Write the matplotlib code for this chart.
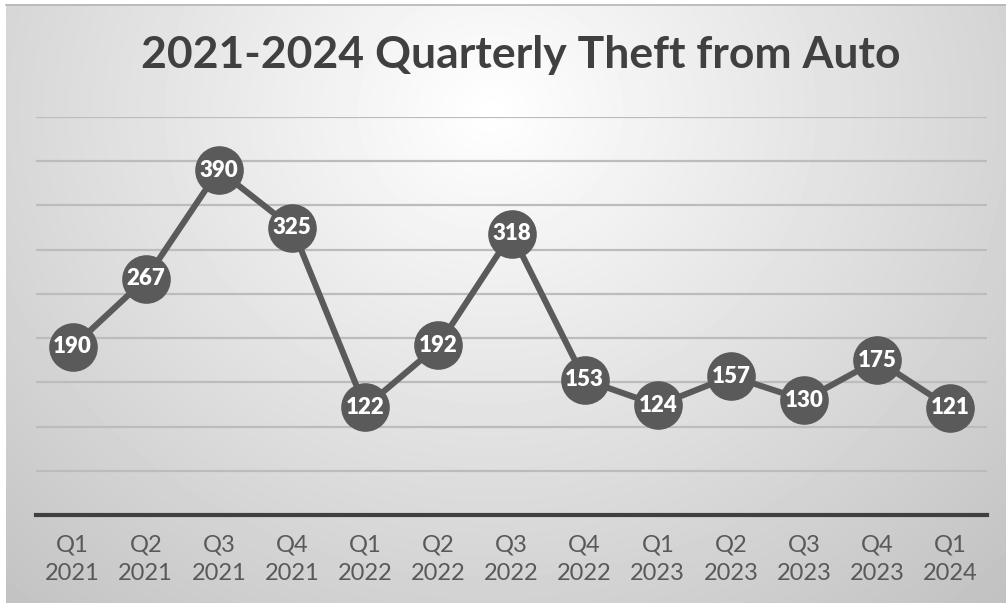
import numpy as np
import matplotlib
matplotlib.use("Agg")
import matplotlib.pyplot as plt

# quarterly theft-from-auto counts
quarters = ["Q1", "Q2", "Q3", "Q4", "Q1", "Q2", "Q3", "Q4", "Q1", "Q2", "Q3", "Q4", "Q1"]
years = ["2021", "2021", "2021", "2021", "2022", "2022", "2022", "2022",
         "2023", "2023", "2023", "2023", "2024"]
thefts = [190, 267, 390, 325, 122, 192, 318, 153, 124, 157, 130, 175, 121]

W, H = 1006, 603
plt.rcParams['font.family'] = ['Lato', 'DejaVu Sans']

fig = plt.figure(figsize=(W / 100, H / 100), dpi=100)
fig.patch.set_facecolor("white")

# radial gray background behind the chart
bg = fig.add_axes([6 / W, 0, (W - 6) / W, (H - 4) / H])
yy, xx = np.mgrid[4:H, 6:W]
dist = np.hypot((xx - 490) * 0.9, (yy - 110) * 1.0)
shade = np.clip(1.0 - 0.00036 * dist, 0, 1)
bg.imshow(shade, cmap="gray", vmin=0, vmax=1, aspect="auto", interpolation="bilinear")
bg.set_axis_off()
fig.add_artist(plt.Line2D([6 / W, 1], [1 - 4.5 / H, 1 - 4.5 / H], color="#b5b5b5", lw=1.2))

ax = fig.add_axes([36 / W, (H - 515) / H, 951 / W, (515 - 117) / H])
ax.set_facecolor("none")
x = np.arange(len(thefts))
ax.set_xlim(-0.5, len(thefts) - 0.5)
ax.set_ylim(0, 450)
ax.set_yticks(np.arange(50, 451, 50))
ax.yaxis.grid(True, color="#bcbcbc", lw=1.6)
ax.set_axisbelow(True)
ax.tick_params(axis="y", left=False, labelleft=False)
for s in ["top", "right", "left"]:
    ax.spines[s].set_visible(False)
ax.spines["bottom"].set_color("#404040")
ax.spines["bottom"].set_linewidth(3)

ax.set_xticks(x)
ax.set_xticklabels([f"{q}\n{y}" for q, y in zip(quarters, years)],
                   fontsize=17, color="#595959", linespacing=1.45)
ax.tick_params(axis="x", length=0, pad=14)

ax.plot(x, thefts, color="#5a5a5a", lw=4.4, marker="o", markersize=35,
        markeredgewidth=0, solid_joinstyle="round", clip_on=False, zorder=3)
for xi, v in zip(x, thefts):
    ax.text(xi, v, str(v), ha="center", va="center", color="white",
            fontsize=16, fontweight="heavy", zorder=4)

fig.text(521 / W, 1 - 55 / H, "2021-2024 Quarterly Theft from Auto", ha="center", va="center",
         fontsize=32, fontweight="bold", color="#404040")

fig.savefig("out.png", dpi=100)
